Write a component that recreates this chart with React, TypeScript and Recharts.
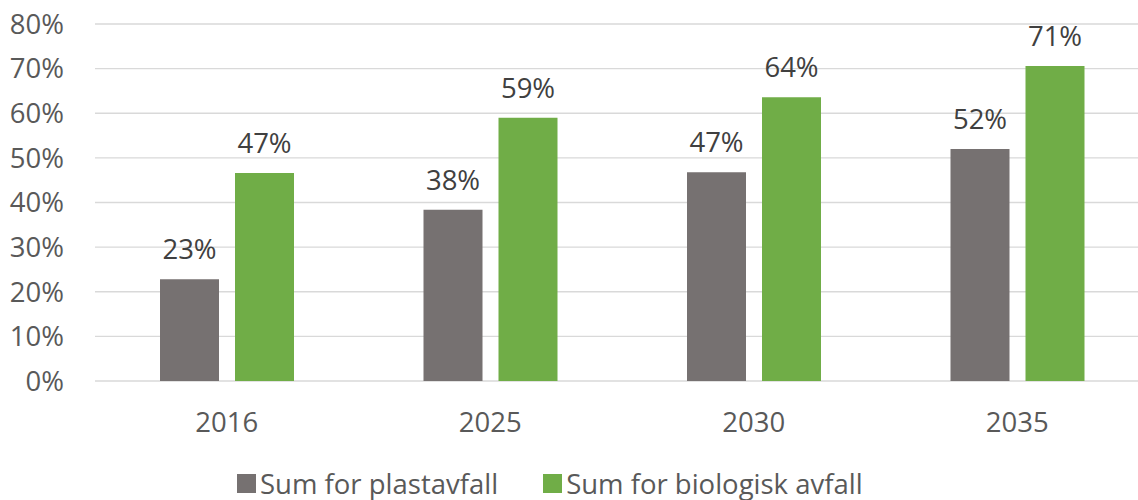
import React from 'react';
import { BarChart, Bar, XAxis, YAxis, CartesianGrid, Legend, LabelList } from 'recharts';

const years = ['2016', '2025', '2030', '2035'];
const plastavfall = [22.8, 38.4, 46.8, 52.0];
const biologisk = [46.6, 59.0, 63.6, 70.6];
const yTicks = [0, 10, 20, 30, 40, 50, 60, 70, 80];

const seriesNames = ['Sum for plastavfall', 'Sum for biologisk avfall'];
const GREY = '#767171';
const GREEN = '#70ad47';
const FONT = '"Open Sans", sans-serif';

const data = years.map((year, i) => ({
  year,
  plast: plastavfall[i],
  bio: biologisk[i],
}));

const pct = (v: number) => `${Math.round(v)}%`;

function LegendContent() {
  const items = [
    { name: seriesNames[0], color: GREY },
    { name: seriesNames[1], color: GREEN },
  ];
  return (
    <div style={{ display: 'flex', alignItems: 'center', fontFamily: FONT, fontSize: 27.5, color: '#595959' }}>
      {items.map((it, i) => (
        <div key={it.name} style={{ display: 'flex', alignItems: 'center', marginRight: i === 0 ? 45 : 0 }}>
          <span style={{ display: 'inline-block', width: 19, height: 19, background: it.color, marginRight: 4 }} />
          <span style={{ whiteSpace: 'nowrap' }}>{it.name}</span>
        </div>
      ))}
    </div>
  );
}

export default function App() {
  return (
    <div style={{ position: 'absolute', left: 0, top: 0, width: 1138, height: 500, overflow: 'hidden', background: '#fff' }}>
      <BarChart
        width={1138}
        height={500}
        data={data}
        margin={{ top: 24, right: -11, left: 0, bottom: 59 }}
        barGap={16}
        barSize={59}
      >
        <CartesianGrid vertical={false} stroke="#d9d9d9" strokeWidth={1.4} />
        <XAxis
          dataKey="year"
          height={60}
          axisLine={false}
          tickLine={false}
          tickSize={0}
          tickMargin={31}
          tick={{ fill: '#595959', fontSize: 27.5, fontFamily: FONT }}
        />
        <YAxis
          width={95}
          domain={[0, 80]}
          ticks={yTicks}
          axisLine={false}
          tickLine={false}
          tickSize={0}
          tickMargin={31}
          tickFormatter={(v: number) => `${v}%`}
          tick={{ fill: '#595959', fontSize: 27.5, fontFamily: FONT }}
        />
        <Legend
          verticalAlign="middle"
          align="center"
          content={() => <LegendContent />}
          wrapperStyle={{ left: 237, top: 465, width: 'auto', height: 'auto' }}
        />
        <Bar dataKey="plast" name={seriesNames[0]} fill={GREY} isAnimationActive={false}>
          <LabelList dataKey="plast" position="top" offset={20} formatter={pct} fill="#404040" fontSize={27.5} fontFamily={FONT} />
        </Bar>
        <Bar dataKey="bio" name={seriesNames[1]} fill={GREEN} isAnimationActive={false}>
          <LabelList dataKey="bio" position="top" offset={20} formatter={pct} fill="#404040" fontSize={27.5} fontFamily={FONT} />
        </Bar>
      </BarChart>
    </div>
  );
}
